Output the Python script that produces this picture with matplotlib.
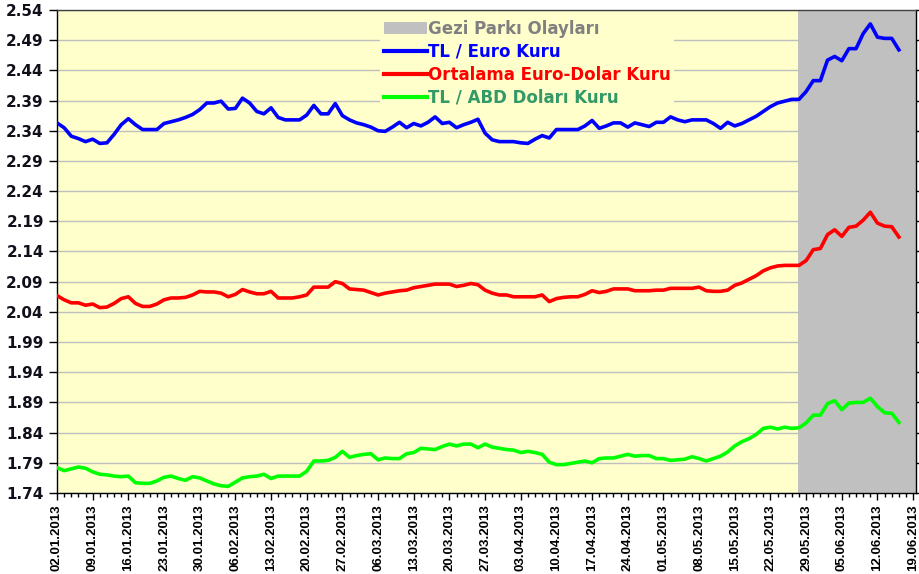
import numpy as np
import pandas as pd
import matplotlib.pyplot as plt
from matplotlib.patches import Patch
from matplotlib.lines import Line2D

plt.rcParams['font.family'] = ['DejaVu Sans']

# business days, 02.01.2013 - 19.06.2013
dates = pd.bdate_range('2013-01-02', '2013-06-19')
gezi_start = '2013-05-28'

tl_euro = [2.353, 2.345, 2.331, 2.327, 2.322, 2.326, 2.319, 2.320, 2.334, 2.350,
           2.360, 2.350, 2.342, 2.342, 2.342, 2.352, 2.355, 2.358, 2.362, 2.367,
           2.375, 2.386, 2.386, 2.389, 2.376, 2.377, 2.394, 2.386, 2.372, 2.368,
           2.378, 2.362, 2.358, 2.358, 2.358, 2.366, 2.382, 2.368, 2.368, 2.385,
           2.365, 2.358, 2.353, 2.350, 2.346, 2.340, 2.339, 2.346, 2.354, 2.345,
           2.352, 2.348, 2.354, 2.363, 2.352, 2.354, 2.345, 2.350, 2.354, 2.359,
           2.336, 2.325, 2.322, 2.322, 2.322, 2.320, 2.319, 2.326, 2.332, 2.328,
           2.342, 2.342, 2.342, 2.342, 2.348, 2.357, 2.344, 2.348, 2.353, 2.353,
           2.346, 2.353, 2.350, 2.347, 2.354, 2.354, 2.363, 2.358, 2.355, 2.358,
           2.358, 2.358, 2.352, 2.344, 2.354, 2.348, 2.352, 2.358, 2.364, 2.372,
           2.380, 2.386, 2.389, 2.392, 2.392, 2.405, 2.423, 2.423, 2.457, 2.463,
           2.456, 2.476, 2.476, 2.501, 2.517, 2.495, 2.493, 2.493, 2.474]

euro_dolar = [2.067, 2.060, 2.055, 2.055, 2.051, 2.053, 2.047, 2.048, 2.054, 2.062,
              2.065, 2.054, 2.049, 2.049, 2.053, 2.060, 2.063, 2.063, 2.064, 2.068,
              2.074, 2.073, 2.073, 2.071, 2.065, 2.069, 2.077, 2.073, 2.070, 2.070,
              2.074, 2.063, 2.063, 2.063, 2.065, 2.068, 2.081, 2.081, 2.081, 2.090,
              2.087, 2.078, 2.077, 2.076, 2.072, 2.068, 2.071, 2.073, 2.075, 2.076,
              2.080, 2.082, 2.084, 2.086, 2.086, 2.086, 2.082, 2.084, 2.087, 2.085,
              2.076, 2.071, 2.068, 2.068, 2.065, 2.065, 2.065, 2.065, 2.068, 2.057,
              2.062, 2.064, 2.065, 2.065, 2.069, 2.075, 2.072, 2.074, 2.078, 2.078,
              2.078, 2.075, 2.075, 2.075, 2.076, 2.076, 2.079, 2.079, 2.079, 2.079,
              2.081, 2.075, 2.074, 2.074, 2.076, 2.084, 2.088, 2.094, 2.100, 2.108,
              2.113, 2.116, 2.117, 2.117, 2.117, 2.125, 2.143, 2.145, 2.168, 2.176,
              2.165, 2.180, 2.182, 2.192, 2.205, 2.187, 2.182, 2.181, 2.164]

tl_abd = [1.782, 1.777, 1.780, 1.783, 1.781, 1.775, 1.771, 1.770, 1.768, 1.767,
          1.768, 1.757, 1.756, 1.756, 1.760, 1.766, 1.768, 1.764, 1.761, 1.767,
          1.765, 1.760, 1.755, 1.752, 1.751, 1.758, 1.765, 1.767, 1.768, 1.771,
          1.764, 1.768, 1.768, 1.768, 1.768, 1.776, 1.793, 1.793, 1.794, 1.799,
          1.809, 1.799, 1.802, 1.804, 1.805, 1.795, 1.798, 1.797, 1.797, 1.805,
          1.807, 1.814, 1.813, 1.812, 1.817, 1.821, 1.818, 1.821, 1.821, 1.815,
          1.821, 1.816, 1.814, 1.812, 1.811, 1.807, 1.809, 1.807, 1.804, 1.791,
          1.787, 1.787, 1.789, 1.791, 1.793, 1.790, 1.797, 1.798, 1.798, 1.801,
          1.804, 1.801, 1.802, 1.802, 1.797, 1.797, 1.794, 1.795, 1.796, 1.800,
          1.797, 1.793, 1.797, 1.801, 1.808, 1.818, 1.825, 1.830, 1.837, 1.847,
          1.849, 1.846, 1.849, 1.847, 1.848, 1.856, 1.869, 1.869, 1.888, 1.893,
          1.878, 1.889, 1.890, 1.890, 1.897, 1.883, 1.873, 1.872, 1.857]

y_min, y_max = 1.74, 2.54
labels = ['Gezi Parkı Olayları', 'TL / Euro Kuru', 'Ortalama Euro-Dolar Kuru', 'TL / ABD Doları Kuru']

fig = plt.figure(figsize=(9.2, 5.74), dpi=100)
ax = fig.add_axes([57 / 920, 81 / 574, 859 / 920, 483 / 574])
ax.set_facecolor('#FFFFCC')

x = np.arange(len(dates))
gezi = x[dates >= gezi_start]
ax.bar(gezi + 0.4, y_max - y_min, bottom=y_min, width=1.0, color='#C0C0C0', zorder=1)

xs = np.arange(len(tl_euro))
ax.plot(xs, tl_euro, color='#0000FF', lw=2.6, zorder=3)
ax.plot(xs, euro_dolar, color='#FF0000', lw=2.6, zorder=3)
ax.plot(xs, tl_abd, color='#00FF00', lw=2.6, zorder=3)

ax.set_ylim(y_min, y_max)
ax.set_xlim(0, len(dates) - 1 + 0.4)
yt = np.round(np.arange(y_min, y_max + 0.001, 0.05), 2)
ax.set_yticks(yt)
ax.set_yticklabels(['%.2f' % v for v in yt], fontsize=11, fontweight='bold', color='#10101a')
ax.yaxis.grid(True, color='#C0C0C0', lw=1, zorder=0)
ax.set_axisbelow(True)

ax.set_xticks(x[::5])
ax.set_xticklabels(dates[::5].strftime('%d.%m.%Y'), rotation=90, fontsize=9.5,
                   fontweight='bold', family='Liberation Sans')
ax.set_xticks(x, minor=True)
ax.tick_params(axis='x', which='major', length=5, width=1, direction='out', pad=3)
ax.tick_params(axis='x', which='minor', length=3, width=1, direction='out')
ax.tick_params(axis='y', length=6, width=1, direction='out', right=True, labelright=False)

for s in ax.spines.values():
    s.set_color('#000000')
    s.set_linewidth(1.0)
ax.spines['top'].set_color('#404040')

handles = [Patch(facecolor='#C0C0C0', edgecolor='none'),
           Line2D([], [], color='#0000FF', lw=3),
           Line2D([], [], color='#FF0000', lw=3),
           Line2D([], [], color='#00FF00', lw=3)]
leg = ax.legend(handles, labels, loc='upper left', bbox_to_anchor=(372 / 920, 1 - 8 / 574),
                bbox_transform=fig.transFigure, frameon=True, facecolor='#FFFFCC', edgecolor='none',
                framealpha=1, fancybox=False, borderpad=0.2, handlelength=2.6, handletextpad=0.05,
                labelspacing=0.3, prop={'size': 12, 'weight': 'bold'})
leg.set_zorder(2.4)
for t, c in zip(leg.get_texts(), ['#808080', '#0000FF', '#FF0000', '#339966']):
    t.set_color(c)

fig.savefig('out.png', dpi=100)
